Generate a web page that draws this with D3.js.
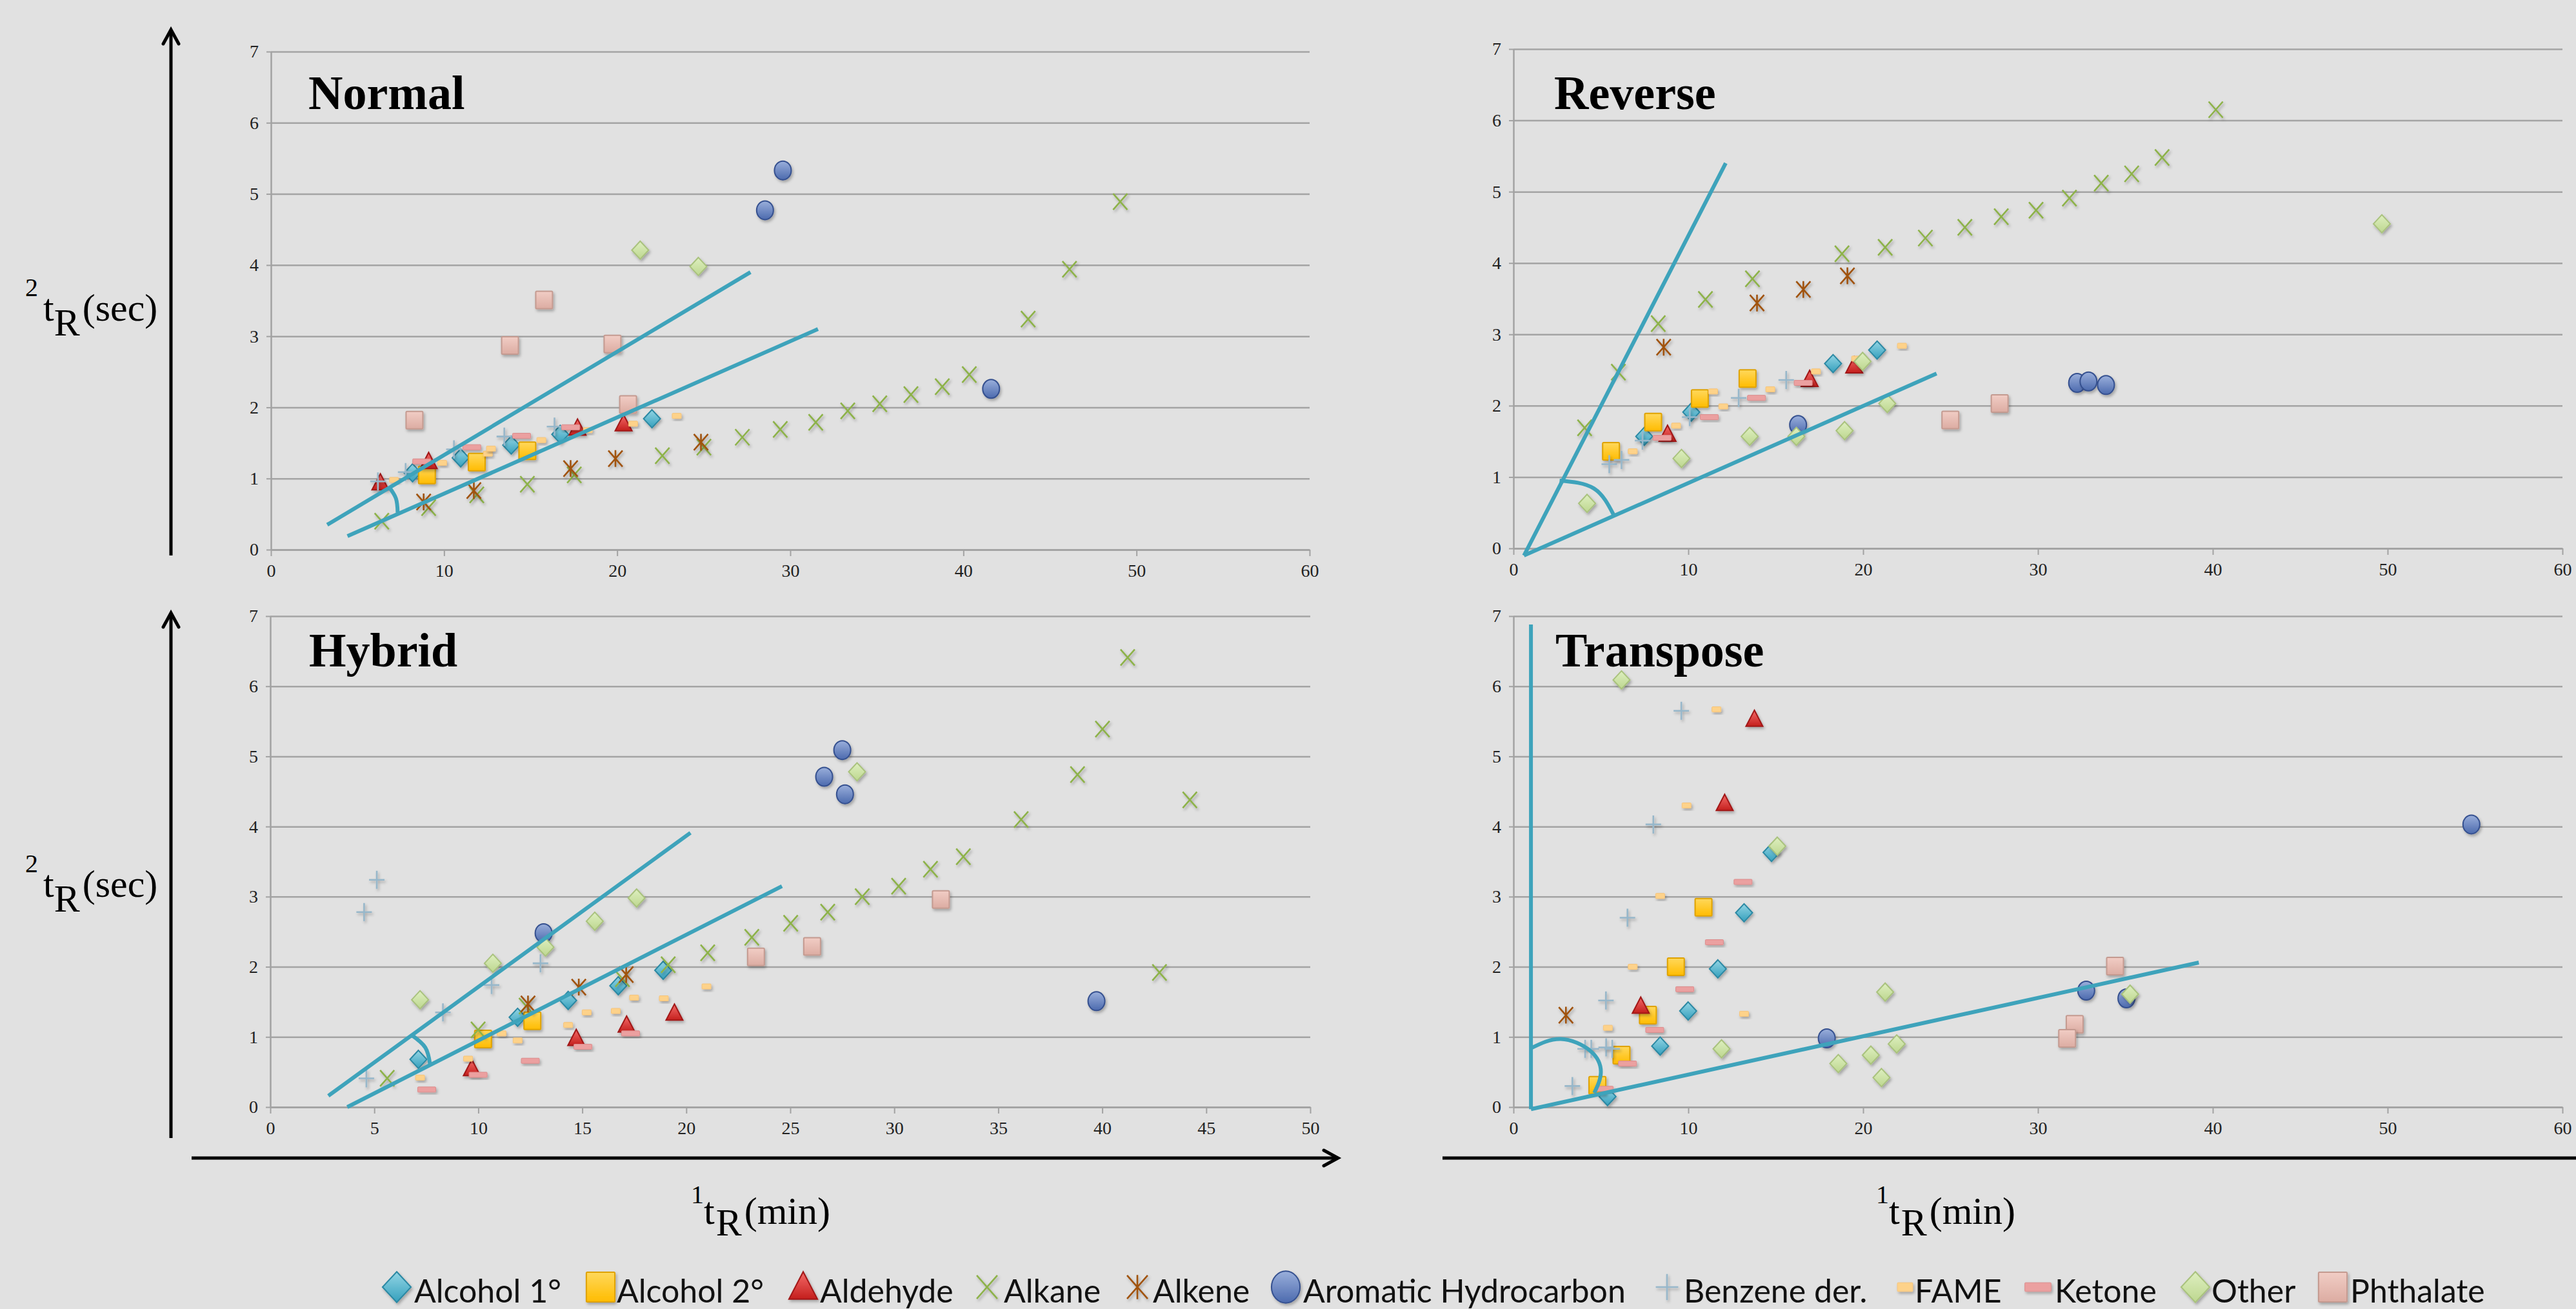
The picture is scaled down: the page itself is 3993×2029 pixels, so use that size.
<!DOCTYPE html>
<html>
<head>
<meta charset="utf-8">
<script src="https://cdn.jsdelivr.net/npm/d3@7"></script>
<style>
  html, body { margin: 0; padding: 0; background: #e1e1e1; }
  svg { display: block; }
</style>
</head>
<body>
<svg id="chart" width="3993" height="2029"></svg>
<script>
// categories, in the order the spreadsheet draws them
const categoryKeys = ["alc1", "alc2", "ald", "alkane", "alkene", "arom", "benz", "fame", "ket", "other", "phth"];
const categories = ["Alcohol 1°", "Alcohol 2°", "Aldehyde", "Alkane", "Alkene", "Aromatic Hydrocarbon",
                    "Benzene der.", "FAME", "Ketone", "Other", "Phthalate"];

const yTicks = [0, 1, 2, 3, 4, 5, 6, 7];
const xTicks60 = [0, 10, 20, 30, 40, 50, 60];
const xTicks50 = [0, 5, 10, 15, 20, 25, 30, 35, 40, 45, 50];

// [category, 1tR (min), 2tR (sec)]
const normalPoints = [
  ["alc1", 8.18, 1.08], ["alc1", 10.96, 1.29], ["alc1", 13.88, 1.47], ["alc1", 16.71, 1.62], ["alc1", 22.01, 1.84],
  ["alc2", 9.01, 1.05], ["alc2", 11.89, 1.23], ["alc2", 14.81, 1.39],
  ["ald", 6.32, 0.94], ["ald", 9.11, 1.24], ["ald", 17.71, 1.71], ["ald", 20.37, 1.77],
  ["alkane", 6.40, 0.40], ["alkane", 9.11, 0.59], ["alkane", 11.89, 0.77], ["alkane", 14.81, 0.92],
  ["alkane", 17.52, 1.05], ["alkane", 22.61, 1.32], ["alkane", 25.01, 1.44], ["alkane", 27.23, 1.58],
  ["alkane", 29.42, 1.69], ["alkane", 31.47, 1.79], ["alkane", 33.32, 1.95], ["alkane", 35.17, 2.05],
  ["alkane", 36.97, 2.18], ["alkane", 38.78, 2.29], ["alkane", 40.34, 2.46], ["alkane", 43.74, 3.24],
  ["alkane", 46.13, 3.94], ["alkane", 49.06, 4.89],
  ["alkene", 8.82, 0.67], ["alkene", 11.72, 0.83], ["alkene", 17.31, 1.14], ["alkene", 19.9, 1.28], ["alkene", 24.84, 1.51],
  ["arom", 28.54, 4.77], ["arom", 29.57, 5.33], ["arom", 41.6, 2.26],
  ["benz", 6.18, 0.96], ["benz", 7.78, 1.09], ["benz", 10.57, 1.41], ["benz", 13.48, 1.59], ["benz", 16.38, 1.73],
  ["fame", 7.11, 0.98], ["fame", 9.89, 1.22], ["fame", 12.53, 1.35], ["fame", 12.71, 1.42], ["fame", 15.62, 1.54],
  ["fame", 18.3, 1.68], ["fame", 20.92, 1.77], ["fame", 23.44, 1.88],
  ["ket", 8.71, 1.24], ["ket", 11.6, 1.44], ["ket", 14.48, 1.60], ["ket", 17.31, 1.72],
  ["other", 21.33, 4.21], ["other", 24.69, 3.98],
  ["phth", 8.29, 1.82], ["phth", 13.81, 2.87], ["phth", 15.78, 3.51], ["phth", 19.73, 2.89], ["phth", 20.63, 2.04]
];

const reversePoints = [
  ["alc1", 7.48, 1.57], ["alc1", 10.17, 1.91], ["alc1", 18.28, 2.59], ["alc1", 20.8, 2.78],
  ["alc2", 5.58, 1.36], ["alc2", 7.99, 1.77], ["alc2", 10.66, 2.10], ["alc2", 13.39, 2.38],
  ["ald", 8.81, 1.60], ["ald", 16.94, 2.37], ["ald", 19.49, 2.56],
  ["alkane", 4.07, 1.69], ["alkane", 6.0, 2.47], ["alkane", 8.28, 3.15], ["alkane", 10.98, 3.49],
  ["alkane", 13.67, 3.78], ["alkane", 18.79, 4.13], ["alkane", 21.26, 4.22], ["alkane", 23.56, 4.35],
  ["alkane", 25.82, 4.50], ["alkane", 27.9, 4.65], ["alkane", 29.89, 4.74], ["alkane", 31.8, 4.91],
  ["alkane", 33.62, 5.12], ["alkane", 35.36, 5.25], ["alkane", 37.1, 5.48], ["alkane", 40.17, 6.15],
  ["alkene", 8.59, 2.82], ["alkene", 13.93, 3.44], ["alkene", 16.58, 3.63], ["alkene", 19.1, 3.82],
  ["arom", 16.28, 1.73], ["arom", 32.24, 2.32], ["arom", 32.89, 2.34], ["arom", 33.89, 2.29],
  ["benz", 5.48, 1.18], ["benz", 6.18, 1.24], ["benz", 7.38, 1.51], ["benz", 10.08, 1.84], ["benz", 12.88, 2.11], ["benz", 15.6, 2.36],
  ["fame", 6.82, 1.36], ["fame", 9.3, 1.72], ["fame", 11.42, 2.20], ["fame", 12.0, 1.99], ["fame", 14.69, 2.23],
  ["fame", 17.3, 2.48], ["fame", 19.6, 2.66], ["fame", 22.22, 2.84],
  ["ket", 8.5, 1.55], ["ket", 11.2, 1.84], ["ket", 13.9, 2.11], ["ket", 16.57, 2.32],
  ["other", 4.21, 0.63], ["other", 9.61, 1.26], ["other", 13.51, 1.57], ["other", 16.18, 1.57], ["other", 18.94, 1.65],
  ["other", 19.97, 2.62], ["other", 21.38, 2.03], ["other", 49.67, 4.55],
  ["phth", 24.99, 1.80], ["phth", 27.81, 2.03]
];

const hybridPoints = [
  ["alc1", 7.12, 0.68], ["alc1", 11.89, 1.28], ["alc1", 14.32, 1.52], ["alc1", 16.73, 1.73], ["alc1", 18.89, 1.95],
  ["alc2", 10.23, 0.97], ["alc2", 12.6, 1.23],
  ["ald", 9.69, 0.55], ["ald", 14.71, 0.98], ["ald", 17.13, 1.17], ["ald", 19.43, 1.34],
  ["alkane", 5.62, 0.41], ["alkane", 9.99, 1.10], ["alkane", 12.3, 1.44], ["alkane", 16.93, 1.83],
  ["alkane", 19.13, 2.03], ["alkane", 21.03, 2.20], ["alkane", 23.15, 2.42], ["alkane", 25.02, 2.62],
  ["alkane", 26.8, 2.78], ["alkane", 28.46, 3.0], ["alkane", 30.21, 3.15], ["alkane", 31.74, 3.39],
  ["alkane", 33.32, 3.57], ["alkane", 36.1, 4.10], ["alkane", 38.81, 4.74], ["alkane", 40.01, 5.39],
  ["alkane", 41.22, 6.41], ["alkane", 42.75, 1.92], ["alkane", 44.21, 4.38],
  ["alkene", 12.39, 1.47], ["alkene", 14.83, 1.71], ["alkene", 17.11, 1.89],
  ["arom", 13.14, 2.48], ["arom", 26.63, 4.71], ["arom", 27.5, 5.09], ["arom", 27.63, 4.46], ["arom", 39.72, 1.51],
  ["benz", 4.51, 2.78], ["benz", 5.12, 3.24], ["benz", 4.62, 0.41], ["benz", 8.3, 1.35], ["benz", 10.64, 1.74], ["benz", 12.99, 2.05],
  ["fame", 7.2, 0.42], ["fame", 9.51, 0.69], ["fame", 11.12, 1.05], ["fame", 11.89, 0.95], ["fame", 14.32, 1.17],
  ["fame", 15.21, 1.35], ["fame", 16.61, 1.37], ["fame", 17.49, 1.56], ["fame", 18.92, 1.55], ["fame", 20.97, 1.72],
  ["ket", 7.52, 0.25], ["ket", 9.99, 0.46], ["ket", 12.5, 0.66], ["ket", 15.03, 0.86], ["ket", 17.32, 1.05],
  ["other", 7.2, 1.53], ["other", 10.7, 2.05], ["other", 13.23, 2.28], ["other", 15.6, 2.65], ["other", 17.61, 2.98], ["other", 28.21, 4.78],
  ["phth", 23.35, 2.14], ["phth", 26.05, 2.29], ["phth", 32.24, 2.96]
];

const transposePoints = [
  ["alc1", 14.76, 3.63], ["alc1", 13.19, 2.77], ["alc1", 11.69, 1.97], ["alc1", 9.99, 1.37], ["alc1", 8.39, 0.87], ["alc1", 5.38, 0.15],
  ["alc2", 10.87, 2.85], ["alc2", 9.29, 2.0], ["alc2", 7.69, 1.31], ["alc2", 6.18, 0.74], ["alc2", 4.8, 0.31],
  ["ald", 13.78, 5.53], ["ald", 12.08, 4.33], ["ald", 7.28, 1.44],
  ["alkene", 3.0, 1.31],
  ["arom", 17.92, 0.98], ["arom", 32.76, 1.66], ["arom", 35.06, 1.55], ["arom", 54.79, 4.03],
  ["benz", 9.6, 5.65], ["benz", 8.0, 4.03], ["benz", 6.52, 2.70], ["benz", 5.29, 1.52], ["benz", 4.1, 0.83],
  ["benz", 4.45, 0.83], ["benz", 5.3, 0.85], ["benz", 5.65, 0.83], ["benz", 3.37, 0.30],
  ["fame", 11.61, 5.67], ["fame", 9.9, 4.30], ["fame", 8.39, 3.01], ["fame", 6.82, 2.0], ["fame", 5.4, 1.13], ["fame", 13.19, 1.33],
  ["ket", 13.13, 3.21], ["ket", 11.49, 2.35], ["ket", 9.8, 1.68], ["ket", 8.08, 1.10], ["ket", 6.52, 0.62], ["ket", 5.19, 0.26],
  ["other", 6.18, 6.09], ["other", 15.09, 3.72], ["other", 11.9, 0.83], ["other", 18.58, 0.62], ["other", 20.44, 0.74],
  ["other", 21.05, 0.42], ["other", 21.26, 1.64], ["other", 21.92, 0.90], ["other", 35.27, 1.61],
  ["phth", 34.41, 2.01], ["phth", 32.1, 1.18], ["phth", 31.67, 0.98]
];

// hand-drawn guide lines and angle arcs, in data units
const normalGuides = [[[3.25, 0.35], [27.7, 3.9]], [[4.42, 0.19], [31.6, 3.1]]];
const normalArc = [[6.82, 0.88], [7.22, 0.72], [7.32, 0.52]];
const reverseGuides = [[[0.6, -0.1], [12.14, 5.4]], [[0.6, -0.1], [24.2, 2.45]]];
const reverseArc = [[2.64, 0.95], [4.6, 0.84], [5.73, 0.47]];
const hybridGuides = [[[2.79, 0.16], [20.2, 3.91]], [[3.7, 0.0], [24.6, 3.15]]];
const hybridArc = [[6.78, 1.03], [7.45, 0.85], [7.68, 0.61]];
const transposeGuides = [[[1.0, -0.03], [1.0, 6.88]], [[1.0, -0.03], [39.2, 2.06]]];
const transposeArc = [[1.01, 0.84], [2.7, 0.97], [4.4, 0.8], [5.0, 0.5], [4.62, 0.2]];

// ---------- styles ----------
const serif = "'Liberation Serif', 'Times New Roman', serif";
const guideColor = "#3ea3bb";
const styles = {
  alc1:   { shape: "diamond",  top: "#93d5e4", bottom: "#35a0bd", stroke: "#2b88a3" },
  alc2:   { shape: "square",   top: "#ffd85c", bottom: "#ffbc00", stroke: "#dfa200" },
  ald:    { shape: "triangle", top: "#f46a68", bottom: "#c41f1d", stroke: "#a11818" },
  alkane: { shape: "x",        stroke: "#8db24a" },
  alkene: { shape: "asterisk", stroke: "#a0520f" },
  arom:   { shape: "circle",   top: "#9aafdb", bottom: "#4c6aae", stroke: "#34508f" },
  benz:   { shape: "plus",     stroke: "#97b7ca" },
  fame:   { shape: "dashShort", fill: "#fdd28a", stroke: "#f6c47a" },
  ket:    { shape: "dashLong",  fill: "#eba0a0", stroke: "#dc8c8c" },
  other:  { shape: "diamond",  top: "#deefc0", bottom: "#bdd78f", stroke: "#a9c27d" },
  phth:   { shape: "square",   top: "#f1cdc5", bottom: "#dcaca2", stroke: "#c49a90" }
};

const svg = d3.select("#chart");
svg.append("rect").attr("width", 3993).attr("height", 2029).attr("fill", "#e1e1e1");

const defs = svg.append("defs");
Object.entries(styles).forEach(([k, s]) => {
  if (!s.top) return;
  const g = defs.append("linearGradient").attr("id", "g-" + k)
    .attr("x1", 0).attr("y1", 0).attr("x2", 0).attr("y2", 1);
  g.append("stop").attr("offset", "0%").attr("stop-color", s.top);
  g.append("stop").attr("offset", "100%").attr("stop-color", s.bottom);
});
defs.append("filter").attr("id", "shadow").attr("x", "-50%").attr("y", "-50%").attr("width", "200%").attr("height", "200%")
  .append("feDropShadow").attr("dx", 2).attr("dy", 3).attr("stdDeviation", 2)
  .attr("flood-color", "#000").attr("flood-opacity", 0.28);

// draws one marker centred at 0,0 inside g (s = size factor, sl = factor for line markers)
function marker(g, key, s, sl) {
  const st = styles[key];
  const fill = st.top ? `url(#g-${key})` : st.fill;
  sl = sl || s;
  if (st.shape === "diamond") {
    g.append("path").attr("d", `M0,${-14 * s}L${13 * s},0L0,${14 * s}L${-13 * s},0Z`)
      .attr("fill", fill).attr("stroke", st.stroke).attr("stroke-width", 2);
  } else if (st.shape === "square") {
    g.append("rect").attr("x", -13 * s).attr("y", -13.5 * s).attr("width", 26 * s).attr("height", 27 * s).attr("rx", 1.5)
      .attr("fill", fill).attr("stroke", st.stroke).attr("stroke-width", 2);
  } else if (st.shape === "triangle") {
    g.append("path").attr("d", `M0,${-14 * s}L${13 * s},${11 * s}L${-13 * s},${11 * s}Z`)
      .attr("fill", fill).attr("stroke", st.stroke).attr("stroke-width", 2);
  } else if (st.shape === "circle") {
    g.append("ellipse").attr("rx", 13 * s).attr("ry", 14.5 * s)
      .attr("fill", fill).attr("stroke", st.stroke).attr("stroke-width", 2);
  } else if (st.shape === "x" || st.shape === "asterisk") {
    let d = `M${-11 * sl},${-12.5 * sl}L${11 * sl},${12.5 * sl}M${11 * sl},${-12.5 * sl}L${-11 * sl},${12.5 * sl}`;
    if (st.shape === "asterisk") d += `M0,${-13 * sl}L0,${13 * sl}`;
    g.append("path").attr("d", d).attr("fill", "none").attr("stroke", st.stroke).attr("stroke-width", 2.6);
  } else if (st.shape === "plus") {
    g.append("path").attr("d", `M${-12 * sl},0L${12 * sl},0M0,${-14 * sl}L0,${14 * sl}`)
      .attr("fill", "none").attr("stroke", st.stroke).attr("stroke-width", 2.6);
  } else if (st.shape === "dashShort") {
    g.append("rect").attr("x", -7 * s).attr("y", -4 * s).attr("width", 14 * s).attr("height", 8 * s).attr("rx", 1)
      .attr("fill", fill).attr("stroke", st.stroke).attr("stroke-width", 1);
  } else if (st.shape === "dashLong") {
    g.append("rect").attr("x", -14 * sl).attr("y", -4 * s).attr("width", 28 * sl).attr("height", 8 * s).attr("rx", 1)
      .attr("fill", fill).attr("stroke", st.stroke).attr("stroke-width", 1);
  }
}

const panels = [
  { title: "Normal", points: normalPoints, guides: normalGuides, arc: normalArc, xMax: 60, xTicks: xTicks60,
    left: 420, right: 2030, bottom: 852, top: 80, titleX: 478, titleY: 169 },
  { title: "Reverse", points: reversePoints, guides: reverseGuides, arc: reverseArc, xMax: 60, xTicks: xTicks60,
    left: 2346, right: 3972, bottom: 850, top: 76, titleX: 2409, titleY: 169 },
  { title: "Hybrid", points: hybridPoints, guides: hybridGuides, arc: hybridArc, xMax: 50, xTicks: xTicks50,
    left: 419, right: 2031, bottom: 1716, top: 955, titleX: 479, titleY: 1033 },
  { title: "Transpose", points: transposePoints, guides: transposeGuides, arc: transposeArc, xMax: 60, xTicks: xTicks60,
    left: 2346, right: 3972, bottom: 1716, top: 955, titleX: 2411, titleY: 1033 }
];

function styleAxis(sel) {
  sel.selectAll("text").attr("fill", "#222")
    .attr("font-family", serif).attr("font-size", 28);
  sel.selectAll("line").attr("stroke", "#a2a2a2").attr("stroke-width", 2);
  sel.select(".domain").attr("stroke", "#a2a2a2").attr("stroke-width", 2.5);
}

panels.forEach(p => {
  const x = d3.scaleLinear().domain([0, p.xMax]).range([p.left, p.right]);
  const y = d3.scaleLinear().domain([0, 7]).range([p.bottom, p.top]);
  const g = svg.append("g");

  // horizontal grid
  g.append("g").attr("transform", `translate(${p.left},0)`)
    .call(d3.axisLeft(y).tickValues(yTicks).tickSize(-(p.right - p.left)).tickFormat(""))
    .call(s => s.select(".domain").remove())
    .selectAll("line").attr("stroke", "#a4a4a4").attr("stroke-width", 2.5);

  g.append("g").attr("transform", `translate(${p.left},0)`)
    .call(d3.axisLeft(y).tickValues(yTicks).tickSize(7).tickSizeOuter(0).tickPadding(12).tickFormat(d3.format("d")))
    .call(styleAxis);

  g.append("g").attr("transform", `translate(0,${p.bottom})`)
    .call(d3.axisBottom(x).tickValues(p.xTicks).tickSize(10).tickSizeOuter(0).tickPadding(12).tickFormat(d3.format("d")))
    .call(styleAxis);

  // points, one layer per category
  categoryKeys.forEach(k => {
    g.append("g").selectAll("g")
      .data(p.points.filter(d => d[0] === k))
      .join("g")
        .attr("transform", d => `translate(${x(d[1])},${y(d[2])})`)
        .attr("filter", "url(#shadow)")
        .each(function() { marker(d3.select(this), k, 1); });
  });

  // guide lines drawn over the points
  const line = d3.line().x(d => x(d[0])).y(d => y(d[1]));
  p.guides.forEach(gd => {
    g.append("path").attr("d", line(gd)).attr("fill", "none")
      .attr("stroke", guideColor).attr("stroke-width", 6);
  });
  g.append("path").attr("d", line.curve(d3.curveNatural)(p.arc)).attr("fill", "none")
    .attr("stroke", guideColor).attr("stroke-width", 6);

  g.append("text").attr("x", p.titleX).attr("y", p.titleY)
    .attr("font-family", serif).attr("font-weight", "bold").attr("font-size", 74)
    .attr("fill", "#000").text(p.title);
});

// ---------- big axis arrows ----------
function arrowLine(x1, y1, x2, y2, head) {
  svg.append("line").attr("x1", x1).attr("y1", y1).attr("x2", x2).attr("y2", y2)
    .attr("stroke", "#000").attr("stroke-width", 5);
  if (!head) return;
  const a = Math.atan2(y2 - y1, x2 - x1), L = 22, W = 12;
  const bx = x2 - L * Math.cos(a), by = y2 - L * Math.sin(a);
  const px = -Math.sin(a) * W, py = Math.cos(a) * W;
  svg.append("path").attr("d", `M${bx + px},${by + py}L${x2},${y2}L${bx - px},${by - py}`)
    .attr("fill", "none").attr("stroke", "#000").attr("stroke-width", 5)
    .attr("stroke-linejoin", "miter").attr("stroke-linecap", "round");
}
arrowLine(265, 861, 265, 46, true);
arrowLine(265, 1764, 265, 950, true);
arrowLine(297, 1795, 2074, 1795, true);
arrowLine(2236, 1795, 3993, 1795, false);

// ---------- axis titles ----------
function yTitle(x, base) {
  const t = svg.append("text").attr("x", x).attr("y", base)
    .attr("font-family", serif).attr("font-size", 60).attr("fill", "#000");
  t.append("tspan").attr("font-size", 40).attr("dy", -38).text("2");
  t.append("tspan").attr("dx", 8).attr("dy", 38).text("t");
  t.append("tspan").attr("dy", 23).text("R");
  t.append("tspan").attr("dy", -23).attr("dx", 4).text("(sec)");
}
function xTitle(x, base) {
  const t = svg.append("text").attr("x", x).attr("y", base)
    .attr("font-family", serif).attr("font-size", 60).attr("fill", "#000");
  t.append("tspan").attr("font-size", 40).attr("dy", -32).text("1");
  t.append("tspan").attr("dy", 32).text("t");
  t.append("tspan").attr("dy", 18).attr("dx", 2).text("R");
  t.append("tspan").attr("dy", -18).attr("dx", 4).text("(min)");
}
yTitle(39, 497);
yTitle(39, 1390);
xTitle(1071, 1897);
xTitle(2908, 1897);

// ---------- legend ----------
const legendMarkX = [615, 931, 1245, 1530, 1763, 1993, 2584, 2953, 3159, 3403, 3616];
const legendTextX = [642, 956, 1271, 1556, 1787, 2020, 2610, 2968, 3185, 3428, 3643];
const legend = svg.append("g");
categoryKeys.forEach((k, i) => {
  const m = legend.append("g").attr("transform", `translate(${legendMarkX[i]},1995)`).attr("filter", "url(#shadow)");
  marker(m, k, 1.7, 1.45);
  legend.append("text").attr("x", legendTextX[i]).attr("y", 2019)
    .attr("font-family", "Lato, 'Open Sans', sans-serif").attr("font-size", 50).attr("fill", "#111")
    .text(categories[i]);
});
</script>
</body>
</html>
